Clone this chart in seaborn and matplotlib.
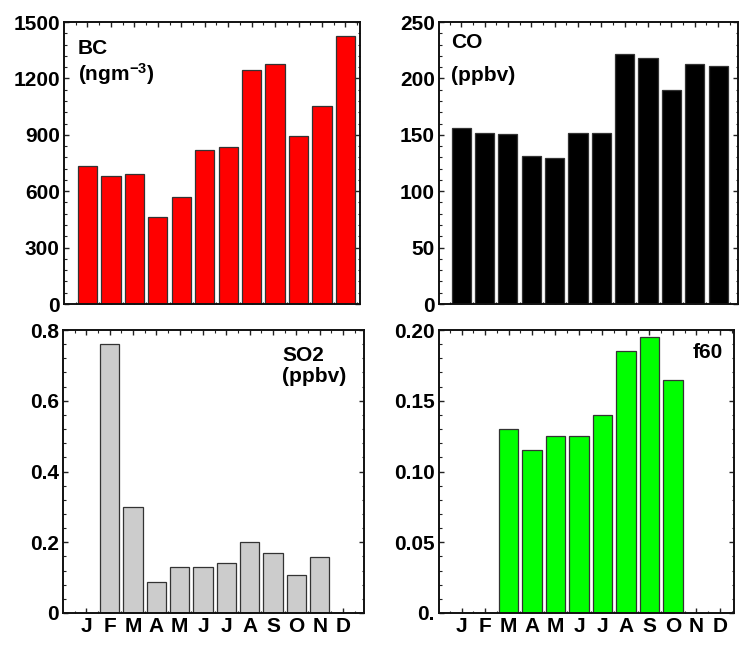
import numpy as np
import pandas as pd
import matplotlib
matplotlib.use("Agg")
import matplotlib.pyplot as plt
from matplotlib.ticker import AutoMinorLocator, FixedLocator
import seaborn as sns

months = ["Jan", "Feb", "Mar", "Apr", "May", "Jun", "Jul", "Aug", "Sep", "Oct", "Nov", "Dec"]
month_labels = ["J", "F", "M", "A", "M", "J", "J", "A", "S", "O", "N", "D"]

bc = [734, 679, 690, 461, 568, 817, 833, 1246, 1278, 893, 1055, 1426]
co = [156, 151.5, 150.3, 131, 129, 151.5, 151.5, 221.5, 218.5, 190, 212.6, 210.6]
so2 = [np.nan, 0.76, 0.30, 0.088, 0.129, 0.129, 0.140, 0.200, 0.169, 0.108, 0.159, np.nan]
f60 = [np.nan, np.nan, 0.130, 0.115, 0.125, 0.125, 0.140, 0.185, 0.195, 0.165, np.nan, np.nan]

sns.set_theme(style="white")
plt.rcParams["font.family"] = ["Liberation Sans", "DejaVu Sans"]
plt.rcParams["font.weight"] = "bold"
plt.rcParams["text.color"] = "black"
plt.rcParams["mathtext.fontset"] = "custom"
plt.rcParams["mathtext.rm"] = "Liberation Sans:bold"
plt.rcParams["mathtext.bf"] = "Liberation Sans:bold"
plt.rcParams["mathtext.it"] = "Liberation Sans:bold"

W, H = 743, 646
fig = plt.figure(figsize=(W / 100, H / 100), dpi=100)

def ax_px(l, r, t, b):
    return fig.add_axes([l / W, 1 - b / H, (r - l) / W, (b - t) / H])

panels = [
    dict(vals=bc, color="#ff0000", box=(64, 360, 22, 304), ylim=(0, 1500), major=300,
         ticks_fmt=lambda v: f"{v:.0f}", xlim=(-1.0, 11.62), xlab=False),
    dict(vals=co, color="#000000", box=(439, 738, 22, 304), ylim=(0, 250), major=50,
         ticks_fmt=lambda v: f"{v:.0f}", xlim=(-0.95, 11.85), xlab=False),
    dict(vals=so2, color="#cccccc", box=(63, 364, 330, 613), ylim=(0, 0.8), major=0.2,
         ticks_fmt=lambda v: "0" if v == 0 else f"{v:.1f}", xlim=(-1.0, 11.9), xlab=True),
    dict(vals=f60, color="#00ff00", box=(439, 734, 330, 613), ylim=(0, 0.2), major=0.05,
         ticks_fmt=lambda v: "0." if v == 0 else f"{v:.2f}", xlim=(-0.96, 11.6), xlab=True),
]

fs = 15
axes = []
for p in panels:
    ax = ax_px(*p["box"])
    df = pd.DataFrame({"month": months, "value": p["vals"]})
    sns.barplot(data=df, x="month", y="value", order=months, color=p["color"],
                saturation=1, width=0.82, edgecolor="#333333", linewidth=0.9, ax=ax)
    ax.set_xlim(*p["xlim"])
    ax.set_ylim(*p["ylim"])
    yt = np.arange(p["ylim"][0], p["ylim"][1] + p["major"] / 2, p["major"])
    ax.set_yticks(yt)
    ax.set_yticklabels([p["ticks_fmt"](round(v, 4)) for v in yt], fontsize=fs, fontweight="bold")
    ax.yaxis.set_minor_locator(AutoMinorLocator(5))
    ax.set_xticks(range(12))
    ax.xaxis.set_minor_locator(FixedLocator(np.arange(-0.5, 12, 1.0)))
    if p["xlab"]:
        ax.set_xticklabels(month_labels, fontsize=fs, fontweight="bold")
    else:
        ax.set_xticklabels([])
    ax.set_xlabel("")
    ax.set_ylabel("")
    ax.tick_params(which="both", direction="in", top=True, right=True, bottom=True, left=True,
                   colors="#222222", labelcolor="black")
    ax.tick_params(which="major", length=3.5, width=1.0, pad=3)
    ax.tick_params(which="minor", length=1.8, width=0.8)
    for s in ax.spines.values():
        s.set_visible(True)
        s.set_color("#111111")
        s.set_linewidth(1.4)
    axes.append(ax)

axes[0].text(0.047, 0.94, "BC", transform=axes[0].transAxes, ha="left", va="top",
             fontsize=fs, fontweight="bold", color="black")
axes[0].text(0.047, 0.86, r"(ngm$^{-3}$)", transform=axes[0].transAxes, ha="left", va="top",
             fontsize=fs, fontweight="bold", color="black")
axes[1].text(0.04, 0.96, "CO", transform=axes[1].transAxes, ha="left", va="top",
             fontsize=fs, fontweight="bold", color="black")
axes[1].text(0.04, 0.845, "(ppbv)", transform=axes[1].transAxes, ha="left", va="top",
             fontsize=fs, fontweight="bold", color="black")
axes[2].text(0.728, 0.945, "SO2", transform=axes[2].transAxes, ha="left", va="top",
             fontsize=fs, fontweight="bold", color="black")
axes[2].text(0.728, 0.87, "(ppbv)", transform=axes[2].transAxes, ha="left", va="top",
             fontsize=fs, fontweight="bold", color="black")
axes[3].text(0.963, 0.955, "f60", transform=axes[3].transAxes, ha="right", va="top",
             fontsize=fs, fontweight="bold", color="black")

fig.savefig("out.png", dpi=100, facecolor="white")
